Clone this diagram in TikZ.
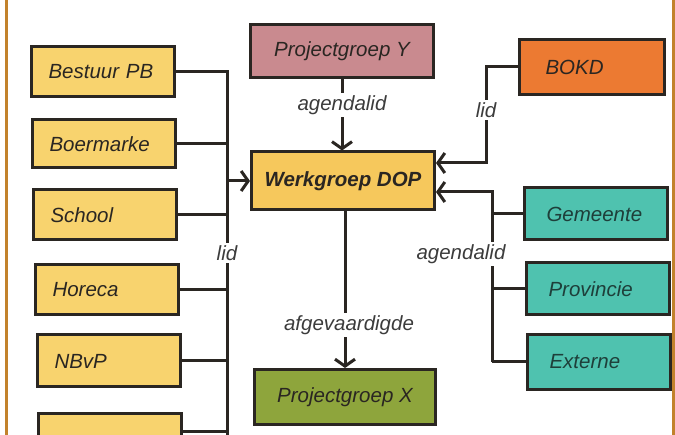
\documentclass[tikz,border=0pt]{standalone}
\usepackage{fontspec}
\setmainfont{Liberation Sans}
\usetikzlibrary{arrows.meta}
\definecolor{boxyellow}{HTML}{F8D36E}
\definecolor{dopyellow}{HTML}{F6C85C}
\definecolor{pinkbox}{HTML}{C98A8F}
\definecolor{olivebox}{HTML}{8EA53C}
\definecolor{orangebox}{HTML}{EC7A32}
\definecolor{tealbox}{HTML}{4FC2AF}
\definecolor{edge}{HTML}{2A2622}
\definecolor{tealtext}{HTML}{1E3F3A}
\definecolor{frame}{HTML}{C2822C}
\definecolor{lbl}{HTML}{3C3C3C}
\tikzset{
  box/.style={draw=edge, line width=3pt, font=\fontsize{20.5}{22}\selectfont\itshape, text=edge, inner ysep=0pt},
  lbox/.style={box, fill=boxyellow, minimum height=50pt, inner xsep=17pt, text width=109pt, align=left},
  rbox/.style={box, fill=tealbox, text=tealtext, minimum height=52pt, inner xsep=22pt, text width=99pt, align=left},
  cbox/.style={box, minimum width=183pt, minimum height=55pt},
  conn/.style={draw=edge, line width=3pt},
  arr/.style={conn, -{Straight Barb[length=7pt,width=20pt,line width=3pt]}},
  lab/.style={fill=white, text=lbl, font=\fontsize{20.5}{22}\selectfont\itshape, inner sep=2pt}
}
\begin{document}
\begin{tikzpicture}[x=1pt,y=-1pt]
\clip (0,0) rectangle (675,435);
\fill[white] (0,0) rectangle (675,435);
\fill[frame] (5,0) rectangle (8,435);
\fill[frame] (672,0) rectangle (675,435);
% left boxes
\node[lbox] (bpb) at (103,72) {Bestuur PB};
\node[lbox, minimum height=48pt] (boer) at (104,144) {Boermarke};
\node[lbox] (school) at (105,215) {School};
\node[lbox] (horeca) at (107,290) {Horeca};
\node[lbox, minimum height=52pt] (nbvp) at (109,361) {NBvP};
\node[lbox, minimum height=52pt] (blank) at (110,440) {};
% centre boxes
\node[cbox, fill=pinkbox, minimum height=53pt] (pgy) at (342,51) {Projectgroep Y};
\node[cbox, fill=dopyellow, minimum height=58pt, font=\fontsize{20.5}{22}\selectfont\bfseries\itshape] (dop) at (343,181) {Werkgroep DOP};
\node[cbox, fill=olivebox, minimum width=181pt] (pgx) at (345,397) {Projectgroep X};
% right boxes
\node[box, fill=orangebox, text=edge, minimum height=55pt, inner xsep=26pt, text width=93pt, align=left] (bokd) at (592,67) {BOKD};
\node[rbox] (gem) at (596,214) {Gemeente};
\node[rbox] (prov) at (598,289) {Provincie};
\node[rbox, minimum height=55pt] (ext) at (599,362) {Externe};
% left trunk
\coordinate (lt1) at (227,72);
\coordinate (lt2) at (227,440);
\draw[conn] (bpb.east) -- (lt1) -- (lt2);
\draw[conn] (boer.east) -- (boer.east -| lt1);
\draw[conn] (school.east) -- (school.east -| lt1);
\draw[conn] (horeca.east) -- (horeca.east -| lt1);
\draw[conn] (nbvp.east) -- (nbvp.east -| lt1);
\draw[conn] ([yshift=-19pt]blank.north east) coordinate (bl) -- (bl -| lt1);
\draw[arr] (lt1 |- dop.west) -- (dop.west);
\node[lab] (lidl) at (227,253) {lid};
% top
\draw[arr] (pgy.south) -- (pgy.south |- dop.north);
\node[lab] (agt) at (342,105) {agendalid};
% BOKD
\coordinate (bk1) at (486,67);
\coordinate (bk2) at (486,163);
\draw[arr] (bokd.west) -- (bk1) -- (bk2) -- (bk2 -| dop.east);
\node[lab] (lidr) at (486,110) {lid};
% right group
\coordinate (rt1) at (492,192);
\coordinate (rt2) at (492,362);
\draw[arr] (rt2) -- (rt1) -- (rt1 -| dop.east);
\draw[conn] (gem.west) -- (gem.west -| rt1);
\draw[conn] (prov.west) -- (prov.west -| rt1);
\draw[conn] (ext.west) -- (rt2);
\node[lab] (agr) at (461,254) {agendalid};
% bottom
\draw[arr] (dop.south -| pgx.north) -- (pgx.north);
\node[lab] (afg) at (349,325) {afgevaardigde};
\end{tikzpicture}
\end{document}
